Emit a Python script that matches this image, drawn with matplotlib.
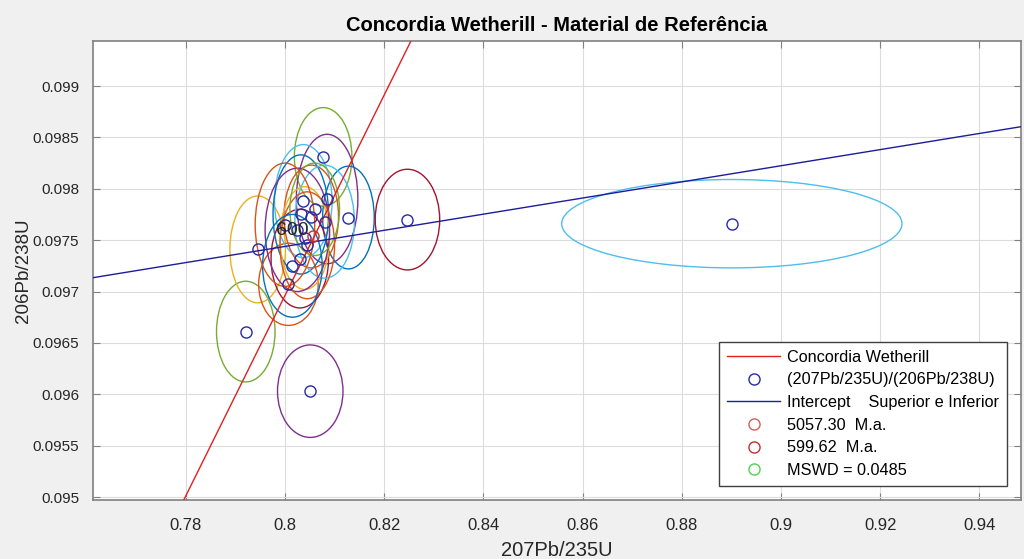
import matplotlib
matplotlib.use('Agg')
import matplotlib.pyplot as plt
from matplotlib.patches import Ellipse

plt.rcParams['font.family'] = ['Liberation Sans', 'DejaVu Sans']

# 207Pb/235U, 206Pb/238U and the half-axes of each error ellipse
x207 = [0.8077, 0.8085, 0.8128, 0.8247, 0.8901, 0.8051, 0.7921, 0.7945, 0.8007, 0.8030,
        0.8037, 0.8032, 0.8053, 0.8080, 0.8040, 0.8025, 0.8045, 0.8060, 0.8015, 0.8000]
y206 = [0.09831, 0.09790, 0.09772, 0.09770, 0.09766, 0.09603, 0.09661, 0.09741, 0.09707, 0.09732,
        0.09788, 0.09775, 0.09773, 0.09768, 0.09752, 0.09760, 0.09745, 0.09780, 0.09725, 0.09765]
err_x = [0.0058, 0.0062, 0.0052, 0.0065, 0.0343, 0.0066, 0.0059, 0.0056, 0.0060, 0.0058,
         0.0058, 0.0056, 0.0055, 0.0060, 0.0050, 0.0065, 0.0055, 0.0050, 0.0060, 0.0060]
err_y = [0.00048, 0.00063, 0.00050, 0.00049, 0.00043, 0.00045, 0.00049, 0.00052, 0.00040, 0.00048,
         0.00055, 0.00058, 0.00050, 0.00055, 0.00050, 0.00060, 0.00052, 0.00045, 0.00050, 0.00060]
ell_colors = ['#77AC30', '#7E2F8E', '#0072BD', '#A2142F', '#4DBEEE', '#7E2F8E', '#77AC30',
              '#EDB120', '#D95319', '#A2142F', '#4DBEEE', '#0072BD', '#D95319', '#4DBEEE',
              '#EDB120', '#7E2F8E', '#D95319', '#77AC30', '#0072BD', '#D95319']

# concordia and discordia lines (two points)
concordia_pts = [(0.7796, 0.094971), (0.8254, 0.099438)]
intercept_pts = [(0.783, 0.097305), (0.947, 0.098593)]

# lower intercept on the concordia
lower_x = [0.8057]
lower_y = [0.09754]

fig = plt.figure(figsize=(10.24, 5.59), dpi=100, facecolor='#f0f0f0')
ax = fig.add_axes([93 / 1024, 1 - 500 / 559, (1021 - 93) / 1024, (500 - 41) / 559])

for x, y, ex, ey, c in zip(x207, y206, err_x, err_y, ell_colors):
    ax.add_patch(Ellipse((x, y), 2 * ex, 2 * ey, fill=False, edgecolor=c, lw=1.0, zorder=2))

ax.axline(*concordia_pts, color='#e02020', lw=1.0, label='Concordia Wetherill', zorder=3)
ax.plot(x207, y206, 'o', ls='none', mfc='none', mec='#2a2aa0', ms=8, mew=1.0,
        label='(207Pb/235U)/(206Pb/238U)', zorder=5)
ax.axline(*intercept_pts, color='#1c1c9c', lw=1.0, label='Intercept    Superior e Inferior', zorder=4)
ax.plot([], [], 'o', mfc='none', mec='#d06060', ms=8, mew=1.0, label='5057.30  M.a.')
ax.plot(lower_x, lower_y, 'o', mfc='none', mec='#c03030', ms=8, mew=1.0, label='599.62  M.a.', zorder=5)
ax.plot([], [], 'o', mfc='none', mec='#50d050', ms=8, mew=1.0, label='MSWD = 0.0485')

ax.text(0.8014, 0.09759, '600', fontsize=14, color='#262626', va='center', ha='center', zorder=6)

ax.set_xlim(0.7613, 0.9484)
ax.set_ylim(0.094971, 0.099438)
ax.set_xticks([0.78, 0.8, 0.82, 0.84, 0.86, 0.88, 0.9, 0.92, 0.94])
ax.set_xticklabels(['0.78', '0.8', '0.82', '0.84', '0.86', '0.88', '0.9', '0.92', '0.94'])
ax.set_yticks([0.095, 0.0955, 0.096, 0.0965, 0.097, 0.0975, 0.098, 0.0985, 0.099])
ax.set_yticklabels(['0.095', '0.0955', '0.096', '0.0965', '0.097', '0.0975', '0.098', '0.0985', '0.099'])
ax.grid(True, color='#dcdcdc', lw=0.8)
ax.set_axisbelow(True)
ax.tick_params(direction='in', top=True, right=True, length=5, color='#808080',
               labelcolor='#262626')
ax.tick_params(axis='x', labelsize=12, pad=13)
ax.tick_params(axis='y', labelsize=11, pad=10)
for s in ax.spines.values():
    s.set_color('#808080')
    s.set_linewidth(1.2)

ax.set_title('Concordia Wetherill - Material de Referência', fontsize=14.5, fontweight='bold',
             color='black', pad=7)
ax.set_xlabel('207Pb/235U', fontsize=14.5, color='#262626', labelpad=6)
ax.set_ylabel('206Pb/238U', fontsize=13.5, color='#262626', labelpad=0)

leg = ax.legend(loc='lower right', bbox_to_anchor=(0.985, 0.0305), borderaxespad=0,
                fontsize=11.7, frameon=True, fancybox=False, edgecolor='#404040',
                framealpha=1, handlelength=3.3, handletextpad=0.4, labelspacing=0.47,
                borderpad=0.5)
leg.get_frame().set_linewidth(1.0)

fig.savefig('out.png', dpi=100, facecolor=fig.get_facecolor())
